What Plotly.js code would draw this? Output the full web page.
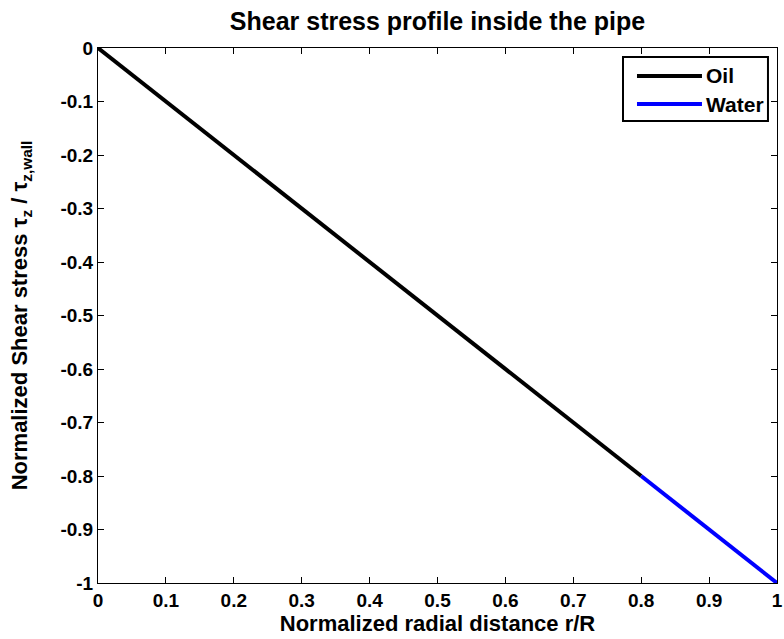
<!DOCTYPE html>
<html>
<head>
<meta charset="utf-8">
<script src="https://cdn.plot.ly/plotly-3.0.1.min.js"></script>
<style>html,body{margin:0;padding:0;background:#fff;}#chart{width:784px;height:639px;}</style>
</head>
<body>
<div id="chart"></div>
<script>
// Data
const seriesNames = ["Oil", "Water"];
const oilR = [0, 0.8];
const oilTau = [0, -0.8];
const waterR = [0.8, 1];
const waterTau = [-0.8, -1];
const xTickVals = [0, 0.1, 0.2, 0.3, 0.4, 0.5, 0.6, 0.7, 0.8, 0.9, 1];
const xTickText = ["0", "0.1", "0.2", "0.3", "0.4", "0.5", "0.6", "0.7", "0.8", "0.9", "1"];
const yTickVals = [0, -0.1, -0.2, -0.3, -0.4, -0.5, -0.6, -0.7, -0.8, -0.9, -1];
const yTickText = ["0", "-0.1", "-0.2", "-0.3", "-0.4", "-0.5", "-0.6", "-0.7", "-0.8", "-0.9", "-1"];

const colors = ["#000000", "#0000ff"];
const font = "Liberation Sans, Arial, Helvetica, sans-serif";

const traces = [
  {x: oilR, y: oilTau, mode: "lines", name: seriesNames[0], line: {color: colors[0], width: 4}, showlegend: false},
  {x: waterR, y: waterTau, mode: "lines", name: seriesNames[1], line: {color: colors[1], width: 4}, showlegend: false}
];

// custom legend (paper coordinates)
const lgX0 = 0.7732, lgX1 = 0.9867, lgY0 = 0.8636, lgY1 = 0.9832;
const rowY = [0.9477, 0.8953];
const shapes = [
  {type: "rect", xref: "paper", yref: "paper", x0: lgX0, x1: lgX1, y0: lgY0, y1: lgY1,
   line: {color: "#000", width: 2}, fillcolor: "#fff", layer: "above"}
];
const annotations = [];
seriesNames.forEach((n, i) => {
  shapes.push({type: "line", xref: "paper", yref: "paper", x0: 0.7938, x1: 0.8895, y0: rowY[i], y1: rowY[i],
    line: {color: colors[i], width: 4}, layer: "above"});
  annotations.push({xref: "paper", yref: "paper", x: 0.8925, y: rowY[i], xanchor: "left", yanchor: "middle",
    text: "<b>" + n + "</b>", showarrow: false, font: {family: font, size: 21, color: "#000"}});
});

const axisCommon = {
  showline: true, linecolor: "#000", linewidth: 1, mirror: "ticks",
  ticks: "inside", ticklen: 6, tickcolor: "#000", tickwidth: 1,
  showgrid: false, zeroline: false,
  tickfont: {family: font, size: 19, color: "#000", weight: "bold"}
};

const layout = {
  width: 784, height: 639,
  margin: {l: 98, r: 7, t: 48, b: 56, autoexpand: false},
  paper_bgcolor: "#fff", plot_bgcolor: "#fff",
  title: {text: "<b>Shear stress profile inside the pipe</b>", font: {family: font, size: 25, color: "#000"},
          xref: "paper", x: 0.5, xanchor: "center", yref: "container", y: 0.967, yanchor: "middle"},
  xaxis: Object.assign({}, axisCommon, {
    range: [0, 1], tickvals: xTickVals, ticktext: xTickText,
    title: {text: "<b>Normalized radial distance r/R</b>", font: {family: font, size: 22, color: "#000"}, standoff: 3}
  }),
  yaxis: Object.assign({}, axisCommon, {
    range: [-1, 0], tickvals: yTickVals, ticktext: yTickText,
    title: {text: "<b>Normalized Shear stress τ<sub>z</sub> / τ<sub>z,wall</sub></b>", font: {family: font, size: 22, color: "#000"}, standoff: 26}
  }),
  shapes: shapes,
  annotations: annotations,
  showlegend: false
};

Plotly.newPlot("chart", traces, layout, {staticPlot: true, displayModeBar: false});
</script>
</body>
</html>
